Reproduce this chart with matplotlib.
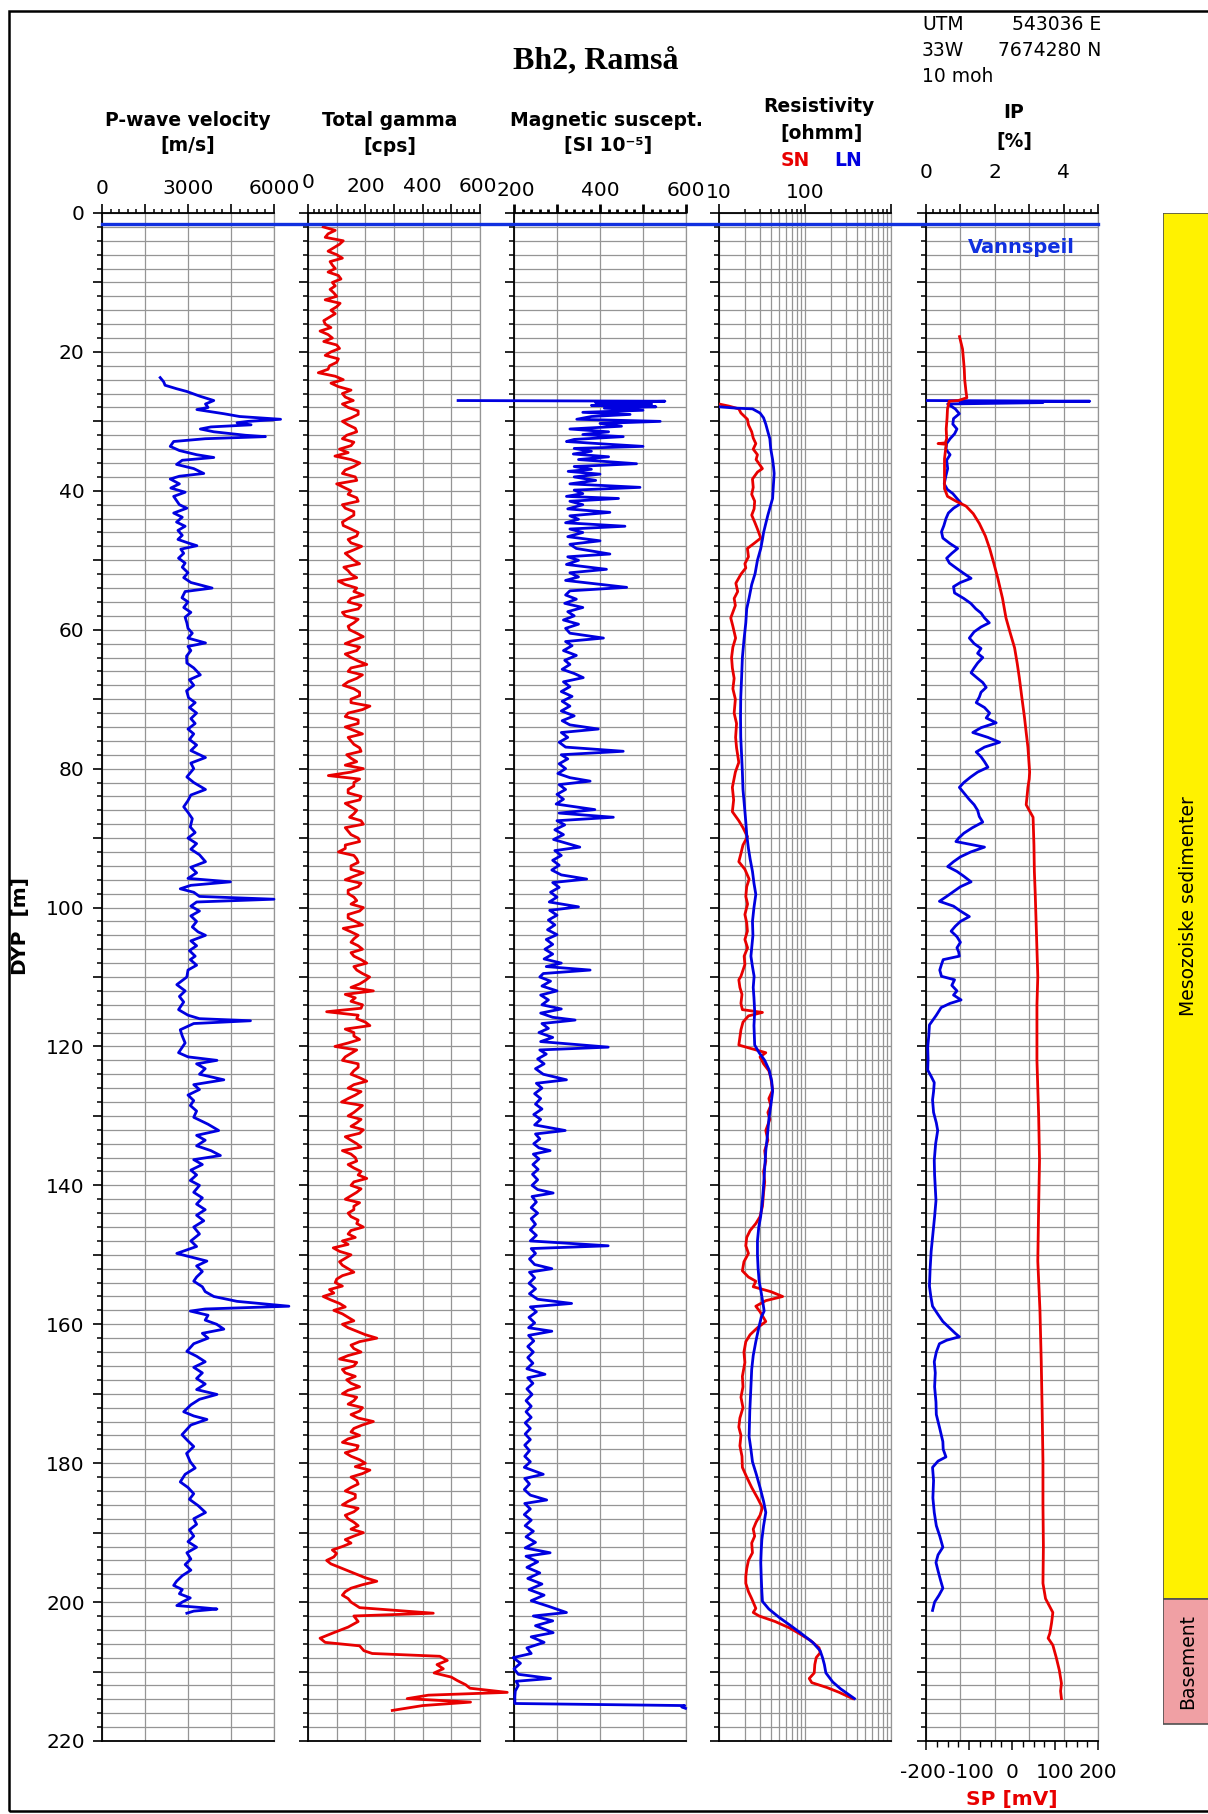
import numpy as np
import matplotlib
matplotlib.use("Agg")
import matplotlib.pyplot as plt
from matplotlib.ticker import MultipleLocator, FixedLocator, LogLocator, NullFormatter, FuncFormatter
from matplotlib.transforms import blended_transform_factory
from matplotlib.lines import Line2D
from matplotlib.patches import Rectangle

# ---------------- data (depth in m) ----------------
water_level = 1.6

pwave = [(23.7, 2030), (24.3, 2150), (24.8, 2200), (25.3, 2600), (25.7, 2960), (26.4, 3430), (27.0, 3900),
         (27.5, 3610), (28.0, 3700), (28.3, 3310), (28.9, 4250), (29.3, 4800), (29.7, 6230), (30.0, 5100),
         (30.2, 4710), (30.5, 5200), (30.8, 3800), (31.1, 3430), (31.5, 3900), (32.0, 5000), (32.2, 5700),
         (32.5, 3600), (32.9, 2500), (33.6, 2380), (34.2, 2700), (34.8, 3300), (35.2, 3900), (35.6, 2800),
         (36.2, 2600), (36.8, 3200), (37.5, 3550), (37.9, 2700), (38.3, 2380), (39.0, 2700), (39.6, 2400),
         (40.2, 2900), (40.8, 2500), (41.4, 2600), (42.0, 2700), (42.5, 2960), (43.2, 2500), (43.8, 2800),
         (44.5, 2600), (45.1, 2900), (45.7, 2650), (46.4, 2800), (47.0, 2650), (47.5, 3000), (47.9, 3310),
         (48.4, 2750), (49.0, 2850), (49.7, 2670), (50.4, 2900), (51.0, 2800), (51.8, 3000), (52.5, 2850),
         (53.2, 3100), (54.0, 3840), (54.5, 2900), (55.4, 2790), (56.0, 3000), (56.8, 2850), (57.5, 3100),
         (58.2, 2900), (59.0, 2960), (59.8, 3000), (60.5, 3150), (61.2, 3000), (61.9, 3610), (62.4, 3000),
         (63.0, 3100), (63.8, 2950), (64.8, 2960), (65.5, 3200), (66.5, 3430), (67.2, 3050), (68.0, 3200),
         (68.8, 2950), (69.8, 3020), (70.5, 3250), (71.2, 3050), (72.0, 3300), (72.8, 3100), (73.5, 3250),
         (74.3, 3000), (75.0, 3200), (75.8, 3050), (76.6, 3300), (77.4, 3100), (78.4, 3610), (79.2, 3100),
         (80.0, 3200), (81.2, 2960), (82.0, 3200), (83.0, 3610), (83.8, 3100), (84.6, 3000), (85.5, 2850),
         (86.3, 3000), (87.2, 3150), (88.4, 3080), (89.2, 3250), (90.0, 3000), (90.8, 3300), (91.6, 3100),
         (92.4, 3400), (93.4, 3610), (94.2, 3100), (95.0, 3300), (95.8, 3000), (96.3, 4480), (96.8, 3100),
         (97.3, 2730), (97.8, 3200), (98.4, 3400), (98.8, 6000), (99.2, 3300), (99.8, 3100), (100.5, 3400),
         (101.2, 3100), (102.0, 3300), (102.8, 3150), (103.5, 3350), (104.0, 3610), (104.8, 3100),
         (105.5, 3300), (106.2, 3050), (107.0, 3250), (107.5, 3080), (108.3, 3300), (109.0, 3000),
         (110.0, 2960), (111.1, 2610), (112.0, 2900), (112.8, 2700), (113.6, 2850), (114.7, 2670),
         (115.5, 3000), (116.0, 3400), (116.3, 5180), (116.7, 3200), (117.6, 2730), (118.5, 2800),
         (119.5, 2900), (120.9, 2670), (121.5, 3000), (122.0, 4010), (122.5, 3300), (123.2, 3600),
         (124.0, 3400), (124.8, 4250), (125.5, 3200), (126.2, 3400), (127.0, 3000), (127.8, 3200),
         (128.5, 3080), (129.3, 3300), (130.2, 3200), (131.2, 3700), (132.1, 4070), (132.8, 3300),
         (133.5, 3600), (134.3, 3300), (135.0, 3800), (135.7, 4130), (136.3, 3200), (137.0, 3500),
         (137.8, 3100), (138.5, 3300), (139.3, 3080), (140.0, 3400), (141.0, 3200), (141.8, 3500),
         (142.7, 3300), (143.5, 3600), (144.3, 3300), (145.1, 3550), (146.0, 3200), (147.0, 3400),
         (148.0, 3100), (148.8, 3300), (149.8, 2610), (150.9, 3660), (151.6, 3300), (152.4, 3500),
         (153.2, 3300), (153.8, 3200), (154.6, 3500), (155.3, 3600), (156.0, 3900), (156.7, 4710),
         (157.0, 5500), (157.4, 6520), (157.8, 3600), (158.1, 3080), (158.7, 3700), (159.4, 3600),
         (160.0, 4000), (160.7, 4250), (161.3, 3500), (162.0, 3700), (162.8, 3200), (163.9, 2960),
         (164.6, 3300), (165.4, 3600), (166.2, 3200), (167.0, 3500), (167.8, 3300), (168.6, 3600),
         (169.4, 3300), (170.1, 4010), (170.8, 3400), (171.6, 3100), (172.6, 2850), (173.2, 3200),
         (173.7, 3660), (174.5, 3100), (175.9, 2790), (176.8, 3000), (177.6, 3200), (178.6, 2950),
         (179.8, 3080), (180.7, 3250), (181.6, 2900), (182.7, 2730), (183.5, 3000), (184.4, 3200),
         (185.2, 3050), (186.1, 3350), (187.1, 3610), (188.0, 3200), (188.8, 3300), (189.6, 3050),
         (190.5, 3200), (191.3, 3000), (192.1, 3300), (192.9, 2960), (193.8, 3100), (194.6, 2900),
         (195.4, 3100), (196.2, 2800), (197.0, 2600), (197.6, 2500), (198.2, 2800), (198.8, 2700),
         (199.4, 3080), (200.0, 2800), (200.5, 2610), (200.8, 3500), (201.0, 4010), (201.3, 3200),
         (201.6, 2960)]

# total gamma: readings on whole metres and on half metres from 2 m to 199.5 m, then the basement part
gamma_depth = list(range(2, 200))
gamma_cps = [53, 70, 123, 90, 100, 77, 95, 106, 85, 77, 100, 112, 80, 75, 60, 42, 85, 100, 80, 106,
             75, 36, 123, 106, 120, 158, 140, 175, 120, 165, 135, 160, 110, 94, 181, 130, 165, 100, 150, 170,
             120, 160, 140, 123, 175, 140, 187, 130, 160, 125, 150, 106, 170, 193, 140, 175, 130, 160, 145, 193,
             130, 170, 150, 205, 140, 170, 123, 180, 150, 216, 140, 175, 130, 190, 150, 180, 135, 170, 193, 71,
             160, 140, 185, 130, 170, 145, 193, 140, 175, 130, 106, 170, 150, 193, 130, 175, 140, 170, 193, 140,
             165, 123, 175, 150, 190, 160, 205, 170, 215, 180, 228, 165, 190, 65, 170, 216, 160, 180, 94, 150,
             120, 175, 150, 205, 140, 165, 117, 175, 140, 170, 193, 130, 170, 120, 165, 140, 185, 205, 150, 170,
             130, 160, 140, 175, 193, 140, 120, 88, 150, 110, 140, 120, 95, 75, 53, 110, 90, 140, 120, 170,
             240, 150, 185, 110, 160, 130, 135, 180, 120, 160, 190, 150, 228, 160, 180, 120, 170, 150, 200, 216,
             150, 175, 130, 165, 120, 160, 140, 175, 193, 130, 120, 100, 65, 110, 170, 240, 150, 120]
gamma_half_cps = [95, 60, 110, 70, 120, 85, 70, 115, 95, 90, 60, 100, 95, 55, 80, 70, 55, 110, 60, 100, 70, 95, 80,
                  150, 130, 120, 175, 150, 140, 170, 120, 150, 140, 150, 160, 120, 170, 125, 140, 175, 130, 160,
                  120, 150, 170, 150, 160, 145,
                  180, 140, 170, 130, 160, 150, 185, 120, 175, 140, 170, 160, 180, 130, 175, 150, 190, 140, 160,
                  180, 150, 190, 130, 175, 160,
                  140, 160, 185, 150, 130, 150, 180, 160, 140, 180, 150, 160, 185, 130, 150, 180, 130, 160, 175,
                  150, 160, 185, 140, 160, 150,
                  180, 140, 190, 150, 160, 175, 150, 185, 160, 190, 200, 150, 130, 150, 185, 175, 200, 130, 160,
                  140, 170, 130, 175, 160, 180,
                  160, 185, 140, 190, 160, 185, 150, 180, 150, 185, 150, 170, 160, 175, 160, 185, 150, 180, 160,
                  150, 170, 150, 165, 140, 110,
                  130, 120, 160, 100, 120, 90, 80, 130, 120, 160, 140, 200, 180, 160, 140, 170, 120, 165, 150,
                  140, 170, 140, 180, 175, 190,
                  150, 140, 175, 130, 180, 165, 190, 170, 150, 165, 140, 175, 130, 160, 150, 160, 150, 85, 90,
                  80, 140, 200, 190, 130, 140]
gamma_tail = [(200.0, 150), (200.8, 180), (201.6, 437), (202.0, 160), (202.8, 175), (203.6, 140), (204.4, 90),
              (205.2, 42), (205.8, 60), (206.3, 180), (207.0, 195), (207.4, 224), (207.8, 460), (208.4, 486),
              (209.0, 450), (209.6, 472), (210.2, 440), (210.8, 500), (211.3, 521), (211.9, 550), (212.4, 565),
              (213.0, 695), (213.4, 420), (213.9, 346), (214.4, 567), (214.9, 400), (215.6, 294)]

magsus = [(27.0, 70), (27.1, 551), (27.3, 390), (27.5, 520), (27.7, 380), (27.9, 530), (28.1, 410), (28.4, 500),
          (28.7, 360), (29.0, 470), (29.3, 380), (29.7, 346), (30.0, 540), (30.3, 400), (30.7, 450), (31.1, 330),
          (31.5, 420), (31.9, 360), (32.2, 454), (32.6, 340), (32.9, 322), (33.3, 420), (33.6, 500), (33.9, 340),
          (34.3, 380), (34.7, 338), (35.1, 420), (35.5, 350), (36.1, 485), (36.5, 340), (36.9, 380), (37.2, 326),
          (37.6, 400), (38.0, 340), (38.5, 390), (39.0, 330), (39.5, 493), (39.9, 340), (40.4, 360), (40.8, 322),
          (41.1, 443), (41.5, 330), (42.0, 360), (42.6, 325), (43.1, 423), (43.6, 330), (44.1, 350), (44.6, 320),
          (45.1, 458), (45.5, 330), (46.0, 360), (46.6, 325), (47.2, 400), (47.7, 330), (48.3, 345), (49.1, 423),
          (49.5, 325), (50.0, 350), (50.6, 322), (51.3, 415), (51.8, 330), (52.4, 350), (52.9, 320), (53.9, 462),
          (54.4, 330), (55.0, 320), (55.6, 345), (56.2, 318), (56.8, 360), (57.4, 325), (58.0, 340), (58.6, 315),
          (59.2, 350), (59.8, 320), (60.5, 330), (61.2, 408), (61.7, 320), (62.3, 335), (63.0, 315), (63.7, 345),
          (64.4, 318), (65.0, 330), (65.7, 312), (66.3, 340), (66.9, 361), (67.5, 315), (68.2, 330), (68.9, 310),
          (69.6, 335), (70.3, 312), (71.0, 330), (71.7, 310), (72.4, 340), (73.1, 312), (73.7, 330), (74.3, 396),
          (74.8, 310), (75.5, 325), (76.2, 305), (76.9, 320), (77.5, 454), (78.0, 310), (78.6, 325), (79.3, 305),
          (80.0, 320), (80.7, 302), (81.3, 330), (81.8, 377), (82.3, 305), (83.0, 320), (83.7, 300), (84.4, 315),
          (85.1, 298), (85.9, 388), (86.4, 305), (87.0, 431), (87.5, 300), (88.1, 318), (88.8, 295), (89.5, 315),
          (90.2, 292), (91.3, 353), (91.8, 295), (92.5, 310), (93.2, 290), (93.9, 305), (94.6, 288), (95.3, 310),
          (95.9, 369), (96.4, 290), (97.1, 305), (97.8, 285), (98.5, 300), (99.2, 282), (99.9, 350), (100.4, 283),
          (101.1, 300), (101.8, 280), (102.5, 295), (103.2, 278), (103.9, 300), (104.6, 275), (105.3, 290),
          (106.0, 272), (106.7, 290), (107.4, 270), (108.0, 310), (108.5, 275), (109.0, 377), (109.5, 268),
          (110.0, 260), (110.6, 285), (111.3, 265), (112.0, 300), (112.6, 262), (113.3, 280), (114.0, 265),
          (114.6, 310), (115.2, 262), (115.8, 290), (116.2, 342), (116.7, 265), (117.4, 280), (118.0, 258),
          (118.7, 290), (119.3, 262), (120.1, 419), (120.5, 260), (121.1, 275), (121.8, 255), (122.5, 270),
          (123.2, 250), (124.0, 268), (124.8, 322), (125.3, 252), (126.0, 265), (126.8, 248), (127.5, 262),
          (128.3, 250), (129.0, 265), (129.8, 246), (130.5, 262), (131.3, 248), (132.1, 319), (132.6, 250),
          (133.3, 260), (134.0, 246), (134.6, 258), (135.0, 284), (135.5, 245), (136.2, 258), (137.0, 244),
          (137.7, 256), (138.4, 243), (139.2, 255), (140.0, 242), (140.6, 255), (141.1, 291), (141.6, 242),
          (142.4, 252), (143.2, 240), (144.0, 255), (144.8, 240), (145.6, 250), (146.4, 238), (147.2, 252),
          (148.0, 238), (148.7, 419), (149.1, 240), (149.8, 250), (150.6, 236), (151.4, 248), (152.0, 288),
          (152.5, 236), (153.3, 248), (154.1, 235), (154.9, 250), (155.6, 236), (156.4, 255), (157.0, 334),
          (157.5, 238), (158.2, 252), (159.0, 235), (159.8, 248), (160.5, 234), (161.0, 288), (161.6, 234),
          (162.4, 246), (163.2, 232), (164.0, 245), (164.8, 232), (165.6, 244), (166.4, 230), (167.2, 272),
          (167.7, 232), (168.5, 244), (169.3, 230), (170.1, 242), (171.0, 228), (171.8, 240), (172.6, 228),
          (173.4, 240), (174.2, 226), (175.0, 238), (175.8, 226), (176.6, 238), (177.4, 225), (178.2, 236),
          (179.0, 225), (179.8, 238), (180.6, 224), (181.6, 268), (182.2, 225), (183.0, 236), (183.8, 224),
          (184.6, 238), (185.3, 276), (185.8, 225), (186.6, 238), (187.4, 224), (188.2, 240), (189.0, 226),
          (189.8, 245), (190.6, 228), (191.4, 250), (192.2, 226), (192.9, 284), (193.4, 228), (194.2, 255),
          (195.0, 230), (195.8, 260), (196.6, 232), (197.4, 265), (198.2, 235), (199.0, 270), (199.8, 240),
          (200.6, 280), (201.5, 322), (202.0, 245), (202.7, 290), (203.4, 250), (204.4, 291), (205.0, 240),
          (205.8, 270), (206.6, 230), (207.4, 240), (208.0, 198), (208.8, 215), (209.6, 200), (210.4, 210),
          (211.0, 285), (211.4, 205), (212.0, 210), (212.8, 203), (213.6, 202), (214.6, 202), (214.9, 597),
          (215.1, 590), (215.3, 599)]

res_sn = [(27.5, 10), (27.8, 13), (28.2, 17), (28.8, 18), (29.7, 21.4), (30.5, 22), (31.5, 24), (32.4, 25),
          (33.2, 26.8), (34.0, 25), (34.8, 28), (35.5, 27), (36.3, 30), (36.8, 32), (37.3, 28), (38.3, 24.5),
          (39.5, 25), (40.5, 24), (41.5, 26), (42.6, 25.6), (43.5, 24), (44.5, 26), (45.5, 28), (46.8, 30.6),
          (47.5, 26), (48.3, 21.4), (49.5, 22), (50.5, 20), (51.1, 20.5), (52.0, 18), (53.3, 15.7), (54.5, 16.5),
          (55.5, 15), (56.5, 15.5), (58.3, 13.7), (59.5, 14.5), (61.2, 15.6), (62.5, 14.5), (64.0, 14),
          (65.5, 14.3), (67.0, 15), (68.5, 14.5), (70.0, 15.5), (72.0, 15), (73.5, 16), (75.5, 15.6), (77.0, 16),
          (79.1, 17), (80.5, 15.5), (82.7, 14.3), (84.5, 14.8), (86.2, 14.3), (87.5, 17), (88.5, 19), (89.8, 21.4),
          (91.0, 19), (92.2, 18), (93.4, 17), (94.5, 20), (95.9, 22.4), (97.0, 21), (98.4, 20.5), (99.5, 21.5),
          (101.0, 20), (102.2, 21), (103.4, 21.4), (104.6, 20), (105.8, 21.5), (107.0, 19.6), (108.2, 20),
          (109.9, 18), (110.4, 17), (111.5, 17.5), (112.5, 18.5), (113.8, 18), (114.7, 18.7), (115.1, 32),
          (115.6, 22), (116.5, 19), (117.6, 18), (118.7, 17.5), (119.8, 17), (120.9, 35), (121.5, 30), (122.5, 33),
          (123.5, 38), (124.5, 40), (126.3, 42), (127.5, 38), (128.5, 40), (129.5, 37), (130.5, 39), (132.1, 35),
          (133.5, 37), (135.0, 34), (136.5, 35), (138.0, 33), (139.5, 34), (141.0, 33), (143.0, 32), (144.5, 30),
          (145.5, 26.8), (146.5, 23), (147.5, 21), (148.7, 20.5), (149.8, 22), (151.0, 19.5), (152.3, 18.7),
          (153.2, 22), (153.8, 26.8), (154.6, 25), (155.3, 40), (156.0, 54.9), (156.6, 35), (157.4, 26.8),
          (158.2, 30), (159.6, 35), (160.5, 28), (161.5, 23), (162.5, 20.5), (164.0, 19.5), (165.5, 20),
          (167.5, 18.7), (169.0, 19), (170.5, 18), (172.0, 19), (173.5, 17.5), (174.8, 17), (176.0, 18),
          (177.5, 17.5), (179.0, 18.5), (180.6, 18.7), (182.0, 21), (183.5, 24), (185.0, 28), (186.4, 32),
          (187.5, 30), (188.5, 27), (189.5, 25), (190.5, 26), (191.5, 24), (192.9, 24.5), (194.0, 22), (195.2, 21),
          (196.3, 20.5), (197.3, 20.5), (198.5, 22), (199.5, 24), (200.9, 26.8), (201.5, 25), (202.0, 29.3),
          (202.8, 45), (203.7, 65.6), (204.5, 85), (205.5, 115), (206.6, 146), (207.3, 150), (208.0, 135),
          (209.0, 130), (210.2, 128), (211.0, 112), (211.6, 120), (212.3, 180), (213.0, 250), (213.9, 359)]

res_ln = [(27.9, 10), (28.1, 16), (28.2, 24.5), (28.8, 30), (29.5, 33), (30.4, 35), (31.5, 37), (32.5, 39),
          (34.0, 40), (35.5, 42), (36.5, 43), (37.5, 43.8), (39.0, 43), (40.0, 42.5), (41.1, 42), (42.5, 39),
          (43.5, 37), (44.7, 35), (46.0, 33), (47.0, 32), (48.3, 30.6), (50.0, 28), (51.9, 26.3), (53.5, 24),
          (55.4, 22.4), (57.0, 21), (59.0, 20.5), (61.5, 19.5), (64.0, 18.7), (67.0, 18.3), (69.8, 17.9),
          (72.5, 17.8), (75.5, 17.9), (78.0, 18.3), (80.5, 18.7), (83.0, 19), (85.5, 19.8), (87.7, 20.5),
          (89.5, 21), (91.5, 22), (93.0, 23), (94.8, 24.5), (96.5, 25.5), (98.1, 26.8), (100.0, 25.5), (102.0, 24.5),
          (104.0, 24.8), (107.0, 23.5), (108.5, 24.5), (109.9, 25.6), (111.5, 25), (113.0, 25.5), (115.0, 26),
          (117.0, 25.5), (119.8, 26), (120.9, 29.3), (122.0, 34), (123.4, 38.3), (125.0, 41), (126.5, 42),
          (128.5, 40), (130.5, 38), (132.8, 36.6), (135.0, 35), (137.5, 34), (140.0, 33), (142.2, 32),
          (144.5, 30.5), (146.0, 29), (148.0, 28), (150.0, 28), (152.0, 28.5), (153.8, 29.3), (155.5, 31),
          (157.0, 32.5), (158.1, 33.5), (159.0, 31), (160.5, 29), (162.5, 26.8), (164.5, 25), (166.5, 24),
          (169.0, 23.5), (172.5, 22.8), (176.2, 22.4), (178.0, 23.5), (179.8, 24.5), (181.5, 27), (183.5, 30),
          (185.5, 33), (187.1, 35), (189.0, 33), (191.0, 31.5), (192.5, 31), (194.3, 30.6), (196.5, 31),
          (198.5, 31.5), (199.9, 32), (201.0, 38), (202.2, 50), (203.5, 70), (204.5, 90), (205.8, 123),
          (207.0, 150), (208.0, 160), (209.0, 168), (210.2, 175), (211.5, 210), (212.5, 260), (213.9, 376)]

ip = [(27.0, 0.0), (27.1, 4.76), (27.2, 1.0), (27.3, 3.4), (27.5, 0.63), (28.2, 0.85), (28.9, 0.97), (29.6, 0.8),
      (30.4, 0.78), (31.1, 0.9), (31.8, 0.83), (32.5, 0.7), (33.2, 0.6), (34.0, 0.58), (34.8, 0.7), (35.6, 0.6),
      (36.8, 0.63), (37.8, 0.58), (39.0, 0.53), (39.8, 0.62), (40.4, 0.78), (41.1, 0.9), (41.8, 1.02), (42.5, 0.8),
      (43.2, 0.65), (44.0, 0.58), (45.0, 0.52), (45.9, 0.45), (46.8, 0.49), (47.6, 0.7), (48.3, 0.92), (49.0, 0.75),
      (49.7, 0.6), (50.4, 0.68), (51.2, 0.9), (51.9, 1.1), (52.6, 1.31), (53.2, 1.0), (53.8, 0.8), (54.7, 0.83),
      (55.5, 1.1), (56.2, 1.3), (57.0, 1.45), (57.6, 1.6), (58.3, 1.7), (59.0, 1.84), (59.6, 1.6), (60.3, 1.4),
      (61.2, 1.26), (62.0, 1.4), (62.7, 1.6), (63.4, 1.5), (64.0, 1.65), (64.8, 1.5), (65.5, 1.4), (66.2, 1.31),
      (67.0, 1.5), (67.6, 1.65), (68.3, 1.75), (69.0, 1.6), (69.7, 1.55), (70.5, 1.46), (71.2, 1.7), (72.0, 1.85),
      (72.7, 1.75), (73.4, 2.04), (74.1, 1.6), (74.8, 1.36), (75.5, 1.8), (76.2, 2.14), (76.9, 1.7), (77.6, 1.46),
      (78.3, 1.6), (79.0, 1.7), (79.8, 1.8), (80.5, 1.5), (81.2, 1.3), (82.0, 1.1), (82.7, 0.97), (83.5, 1.1),
      (84.4, 1.25), (85.2, 1.4), (86.0, 1.5), (86.9, 1.55), (87.7, 1.65), (88.5, 1.35), (89.3, 1.1), (90.0, 0.95),
      (90.5, 0.87), (91.3, 1.7), (92.0, 1.3), (92.7, 1.0), (93.4, 0.8), (94.1, 0.63), (94.8, 0.9), (95.5, 1.1),
      (96.3, 1.31), (97.0, 1.0), (97.7, 0.8), (98.4, 0.6), (99.1, 0.39), (99.8, 0.8), (100.5, 1.0), (101.3, 1.26),
      (102.0, 1.0), (102.7, 0.85), (103.4, 0.73), (104.2, 0.9), (105.0, 1.0), (105.8, 0.9), (106.4, 0.95),
      (107.0, 0.97), (107.5, 0.5), (108.2, 0.45), (109.0, 0.4), (109.9, 0.45), (110.4, 0.83), (111.2, 0.75),
      (112.0, 0.9), (112.6, 0.8), (113.3, 1.02), (113.8, 0.7), (114.4, 0.44), (115.5, 0.3), (116.9, 0.1),
      (118.5, 0.08), (120.1, 0.05), (121.8, 0.06), (123.4, 0.05), (124.3, 0.15), (125.2, 0.24), (126.5, 0.22),
      (127.7, 0.19), (129.5, 0.22), (131.0, 0.3), (132.1, 0.34), (134.0, 0.28), (136.4, 0.24), (138.5, 0.25),
      (140.5, 0.27), (142.2, 0.29), (144.5, 0.25), (147.0, 0.2), (149.5, 0.15), (152.0, 0.12), (154.5, 0.1),
      (156.0, 0.14), (157.4, 0.19), (158.6, 0.35), (159.6, 0.49), (160.6, 0.7), (161.3, 0.85), (161.8, 0.97),
      (162.3, 0.6), (162.8, 0.39), (164.0, 0.3), (165.4, 0.24), (167.0, 0.27), (169.0, 0.25), (171.2, 0.29),
      (173.0, 0.3), (175.0, 0.4), (176.9, 0.49), (178.0, 0.5), (179.1, 0.58), (179.7, 0.35), (180.6, 0.19),
      (182.5, 0.22), (185.0, 0.2), (187.1, 0.24), (189.0, 0.3), (190.5, 0.4), (192.1, 0.49), (193.2, 0.35),
      (194.3, 0.29), (195.5, 0.35), (196.8, 0.42), (198.0, 0.49), (199.0, 0.38), (200.0, 0.25), (201.2, 0.19)]

sp = [(17.8, -122), (19.6, -115), (21.0, -113), (22.5, -111), (24.0, -110), (25.7, -107), (26.6, -105),
      (27.0, -125), (27.1, -146), (28.2, -150), (29.5, -151), (31.1, -153), (32.5, -152), (33.1, -155),
      (33.2, -172), (33.3, -153), (35.4, -157), (37.5, -157), (39.7, -157), (40.8, -150), (41.5, -130),
      (42.2, -107), (43.3, -90), (44.7, -76), (46.5, -62), (48.3, -52), (50.5, -42), (52.6, -33), (55.5, -22),
      (58.3, -14), (60.5, -4), (62.6, 6), (64.8, 12), (66.9, 17), (69.8, 23), (72.6, 29), (74.8, 33), (76.9, 37),
      (78.7, 39), (80.5, 41), (81.5, 40), (82.7, 37), (84.0, 35), (85.2, 33), (86.0, 40), (87.0, 49), (89.0, 50),
      (91.0, 51), (94.8, 52), (98.0, 54), (102.0, 56), (106.0, 58), (109.9, 60), (114.0, 58), (122.0, 58),
      (130.0, 62), (136.4, 64), (143.0, 62), (150.9, 60), (158.0, 65), (165.4, 68), (172.0, 70), (179.8, 72),
      (186.0, 72), (192.0, 73), (197.3, 72), (199.5, 78), (201.5, 95), (203.0, 92), (204.5, 88), (205.2, 84),
      (206.2, 95), (208.0, 103), (209.8, 110), (211.7, 115), (212.8, 113), (213.9, 115)]

units = ["Mesozoiske sedimenter", "Basement"]
unit_top = [0, 199.5]
unit_base = [199.5, 217.6]
unit_colors = ["#fff200", "#f0a0a4"]

# scale labels above each track (value, sideways nudge in px)
pw_labels = [(0, 0), (3000, 0), (6000, 0)]
gamma_labels = [(0, 0), (200, 0), (400, 0), (600, -2)]
mag_labels = [(200, 2), (400, 0), (600, 0)]
res_labels = [(10, 0), (100, 0)]
ip_labels = [(0, 0), (2, 0), (4, 0)]
sp_labels = [(-200, -3), (-100, 2), (0, 0), (100, 0), (200, 0)]

# ---------------- layout helpers (pixel positions on the page) ----------------
W, H = 1208, 1814
BLUE = "#0000e0"
RED = "#e80000"
GRID = "#959595"
TICK_FS = 14.5

plt.rcParams['font.family'] = ['DejaVu Sans']
plt.rcParams['axes.unicode_minus'] = False


def fx(px):
    return px / W


def fy(py):
    return 1 - py / H


def only(vals):
    return FuncFormatter(lambda v, p: f"{v:g}" if any(abs(v - x) < 1e-6 for x in vals) else "")


def scale_labels(ax, labels, dy, yfrac=1.0, raise_first=0):
    for i, (v, dx) in enumerate(labels):
        extra = raise_first if i == 0 else 0
        ax.annotate(f"{v:g}", xy=(v, yfrac), xycoords=("data", "axes fraction"),
                    xytext=(dx, dy + extra), textcoords="offset pixels", ha="center", va="center",
                    fontsize=TICK_FS, annotation_clip=False)


fig = plt.figure(figsize=(W / 100, H / 100), dpi=100)

y0, y1 = fy(1741), fy(213)
tracks = [(102, 274), (308, 480), (514, 686), (719, 891), (926, 1098)]
axes = []
for (l, r) in tracks:
    ax = fig.add_axes([fx(l), y0, fx(r - l), y1 - y0])
    ax.set_ylim(220, 0)
    ax.yaxis.set_major_locator(MultipleLocator(10))
    ax.yaxis.set_minor_locator(MultipleLocator(2))
    ax.grid(axis="y", which="both", color=GRID, lw=0.9)
    ax.tick_params(axis="y", which="major", direction="out", length=6.5, width=1.2, labelleft=False,
                   labelsize=TICK_FS, pad=6)
    ax.tick_params(axis="y", which="minor", direction="out", length=3.6, width=1.1)
    for s in ["left", "top", "bottom"]:
        ax.spines[s].set_linewidth(1.3)
    ax.spines["right"].set_color(GRID)
    ax.spines["right"].set_linewidth(0.9)
    axes.append(ax)

ax_p, ax_g, ax_m, ax_r, ax_ip = axes
sp_ax = ax_ip.twiny()

# depth labels on the first track
ax_p.tick_params(axis="y", labelleft=True)
ax_p.yaxis.set_major_formatter(only(range(0, 221, 20)))

lin_setup = [
    (ax_p, (0, 6000), 1500, 300),
    (ax_g, (0, 600), 100, 20),
    (ax_m, (200, 600), 100, 20),
    (ax_ip, (0, 5), 1, 0.2),
]
for ax, lim, major, minor in lin_setup:
    ax.set_xlim(*lim)
    ax.xaxis.set_major_locator(MultipleLocator(major))
    ax.xaxis.set_minor_locator(MultipleLocator(minor))
    ax.grid(axis="x", which="major", color=GRID, lw=0.9)

ax_r.set_xscale("log")
ax_r.set_xlim(10, 1000)
ax_r.xaxis.set_major_locator(FixedLocator([10, 100, 1000]))
ax_r.xaxis.set_minor_locator(LogLocator(base=10, subs=range(2, 10)))
ax_r.xaxis.set_minor_formatter(NullFormatter())
ax_r.grid(axis="x", which="both", color=GRID, lw=0.9)

for ax in axes:
    ax.xaxis.set_ticks_position("top")
    ax.tick_params(axis="x", which="major", direction="out", length=6.5, width=1.2, top=True, bottom=False,
                   labeltop=False, labelbottom=False)
    ax.tick_params(axis="x", which="minor", direction="out", length=3.2, width=1.1, top=True, bottom=False)
ax_m.tick_params(axis="x", which="both", width=2.0)

scale_labels(ax_p, pw_labels, 24)
scale_labels(ax_g, gamma_labels, 27, raise_first=4)
scale_labels(ax_m, mag_labels, 22)
scale_labels(ax_r, res_labels, 21)
scale_labels(ax_ip, ip_labels, 40)

# SP scale at the bottom of the IP track
sp_ax.set_xlim(-200, 200)
sp_ax.xaxis.set_ticks_position("bottom")
sp_ax.xaxis.set_major_locator(MultipleLocator(100))
sp_ax.xaxis.set_minor_locator(MultipleLocator(25))
sp_ax.tick_params(axis="x", which="major", direction="out", length=6.5, width=1.1, labelbottom=False,
                  labeltop=False)
sp_ax.tick_params(axis="x", which="minor", direction="out", length=4.5, width=1.0)
for s in ["top", "left", "right", "bottom"]:
    sp_ax.spines[s].set_visible(False)
scale_labels(sp_ax, sp_labels, -31, yfrac=0.0)
fig.text(fx(1012), fy(1800), "SP [mV]", color=RED, fontweight="bold", fontsize=14.5, ha="center", va="center")

# ---------------- curves ----------------
LW = 2.0
d, v = np.array(pwave).T
ax_p.plot(v, d, color=BLUE, lw=LW, clip_on=False, zorder=3)

g_pairs = sorted(list(zip(gamma_depth, gamma_cps)) +
                 list(zip([g + 0.5 for g in gamma_depth], gamma_half_cps)) + gamma_tail)
gd, gv = np.array(g_pairs).T
ax_g.plot(gv, gd, color=RED, lw=LW, clip_on=False, zorder=3)

d, v = np.array(magsus).T
ax_m.plot(v, d, color=BLUE, lw=LW, clip_on=False, zorder=3)

d, v = np.array(res_sn).T
ax_r.plot(v, d, color=RED, lw=LW, zorder=3)
d, v = np.array(res_ln).T
ax_r.plot(v, d, color=BLUE, lw=LW, zorder=3)

d, v = np.array(ip).T
ax_ip.plot(v, d, color=BLUE, lw=LW, zorder=3)
d, v = np.array(sp).T
sp_ax.plot(v, d, color=RED, lw=LW, zorder=3)
sp_ax.set_ylim(220, 0)

# water table across all tracks
wl_tr = blended_transform_factory(fig.transFigure, ax_p.transData)
fig.add_artist(Line2D([fx(102), fx(1098)], [water_level, water_level], transform=wl_tr,
                      color="#1030e0", lw=2.4, zorder=10))
ax_ip.text(2.76, 4.9, "Vannspeil", color="#1030e0", fontweight="bold", fontsize=14,
           ha="center", va="center")

# ---------------- geological column ----------------
ax_c = fig.add_axes([fx(1163), y0, 0.1, y1 - y0])
ax_c.set_ylim(220, 0)
ax_c.set_xlim(0, 1)
ax_c.axis("off")
ax_c.bar([0] * len(units), np.array(unit_base) - np.array(unit_top), bottom=unit_top, width=1,
         align="edge", color=unit_colors, edgecolor="#505050", lw=1.2)
col_tr = blended_transform_factory(fig.transFigure, ax_c.transData)
for name, t, b in zip(units, unit_top, unit_base):
    fig.text(fx(1188), (t + b) / 2, name, transform=col_tr, rotation=90, fontsize=13.5,
             ha="center", va="center")

# ---------------- headers and page text ----------------
fig.text(fx(596), fy(61), "Bh2, Ramså", family="Liberation Serif", fontweight="bold", fontsize=23,
         ha="center", va="center")
heads = [
    (188, 121, "P-wave velocity"), (188, 146, "[m/s]"),
    (390, 121, "Total gamma"), (390, 146, "[cps]"),
    (606, 121, "Magnetic suscept."), (608, 146, "[SI 10⁻⁵]"),
    (819, 107, "Resistivity"), (822, 134, "[ohmm]"),
    (1014, 112, "IP"), (1014, 141, "[%]"),
]
for x, y, s in heads:
    fig.text(fx(x), fy(y), s, fontweight="bold", fontsize=13.5, ha="center", va="center")
fig.text(fx(795), fy(160), "SN", color=RED, fontweight="bold", fontsize=13.5, ha="center", va="center")
fig.text(fx(848), fy(160), "LN", color=BLUE, fontweight="bold", fontsize=13.5, ha="center", va="center")

fig.text(fx(21), fy(926), "DYP  [m]", rotation=90, fontweight="bold", fontsize=14.5, ha="center", va="center")

for y, left, right in [(25, "UTM", "543036 E"), (50, "33W", "7674280 N"), (76, "10 moh", "")]:
    fig.text(fx(922), fy(y), left, fontsize=13.5, ha="left", va="center")
    if right:
        fig.text(fx(1101), fy(y), right, fontsize=13.5, ha="right", va="center")

# page frame (right edge runs off the page)
fig.add_artist(Rectangle((fx(9), fy(1811)), 1.1, fy(11) - fy(1811), transform=fig.transFigure,
                         fill=False, lw=1.8, ec="black"))

fig.savefig("out.png", dpi=100)
